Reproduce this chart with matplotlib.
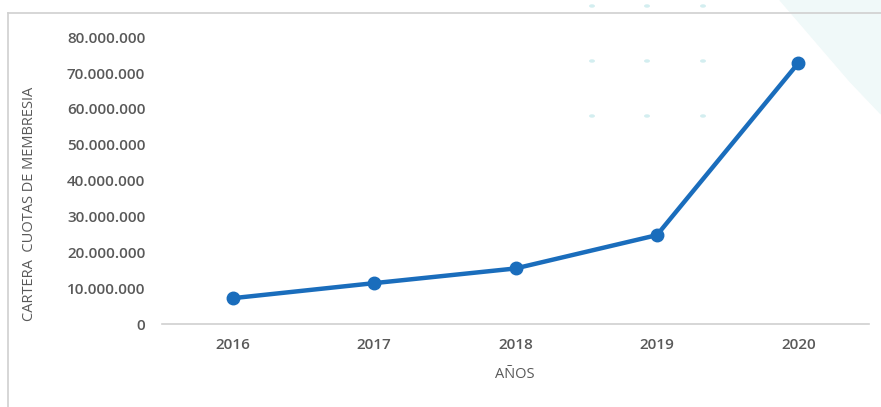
import matplotlib.pyplot as plt
from matplotlib.lines import Line2D
from matplotlib.patches import Circle, Polygon
from matplotlib.ticker import FuncFormatter


YEARS = ["2016", "2017", "2018", "2019", "2020"]
CARTERA = [7_200_000, 11_400_000, 15_500_000, 24_800_000, 72_800_000]
Y_TICKS = [0, 10_000_000, 20_000_000, 30_000_000, 40_000_000,
           50_000_000, 60_000_000, 70_000_000, 80_000_000]

LINE_COLOR = "#1a6dbc"
TEXT_COLOR = "#595959"

plt.rcParams["font.family"] = ["Open Sans", "DejaVu Sans"]


def thousands_dot(value, _pos):
    return f"{int(value):,}".replace(",", ".")


fig = plt.figure(figsize=(8.81, 4.07), dpi=100)
W, H = 881, 407

# faint decorative background
deco = "#f0f9f9"
fig.add_artist(Polygon([(780 / W, 1), (881 / W, 1), (881 / W, 0.72), (850 / W, 0.80)],
                       closed=True, transform=fig.transFigure, color=deco, zorder=0))
for dx in (592, 647, 703):
    for dy in (6, 61, 116):
        fig.add_artist(Circle((dx / W, 1 - dy / H), 2.2 / W, transform=fig.transFigure,
                              color="#d3eef0", zorder=0))

# chart frame
frame_kw = dict(transform=fig.transFigure, color="#d0d0d0", linewidth=1.2)
fig.add_artist(Line2D([8 / W, 1], [1 - 13 / H, 1 - 13 / H], **frame_kw))
fig.add_artist(Line2D([8 / W, 8 / W], [0, 1 - 13 / H], **frame_kw))

ax = fig.add_axes([162 / W, 1 - 324 / H, 707 / W, (324 - 37.3) / H])
ax.patch.set_alpha(0)

x = range(len(YEARS))
ax.plot(x, CARTERA, color=LINE_COLOR, linewidth=3.2, marker="o", markersize=9,
        solid_capstyle="round", zorder=3)

ax.set_xlim(-0.5, len(YEARS) - 0.5)
ax.set_ylim(0, 80_000_000)
ax.set_xticks(list(x))
ax.set_xticklabels(YEARS)
ax.set_yticks(Y_TICKS)
ax.yaxis.set_major_formatter(FuncFormatter(thousands_dot))

for side in ("top", "right", "left"):
    ax.spines[side].set_visible(False)
ax.spines["bottom"].set_color("#d0d0d0")
ax.spines["bottom"].set_linewidth(1.2)

ax.tick_params(axis="both", length=0, colors=TEXT_COLOR, labelsize=11)
ax.tick_params(axis="x", pad=10)
ax.tick_params(axis="y", pad=12)
for lbl in ax.get_xticklabels() + ax.get_yticklabels():
    lbl.set_fontweight("semibold")

fig.text(515 / W, 1 - 375 / H, "AÑOS", ha="center", va="center",
         fontsize=10.5, color=TEXT_COLOR)
fig.text(30 / W, 1 - 204 / H, "CARTERA  CUOTAS DE MEMBRESIA", rotation=90,
         ha="center", va="center", fontsize=10.5, color=TEXT_COLOR)

fig.savefig("out.png", dpi=100)
